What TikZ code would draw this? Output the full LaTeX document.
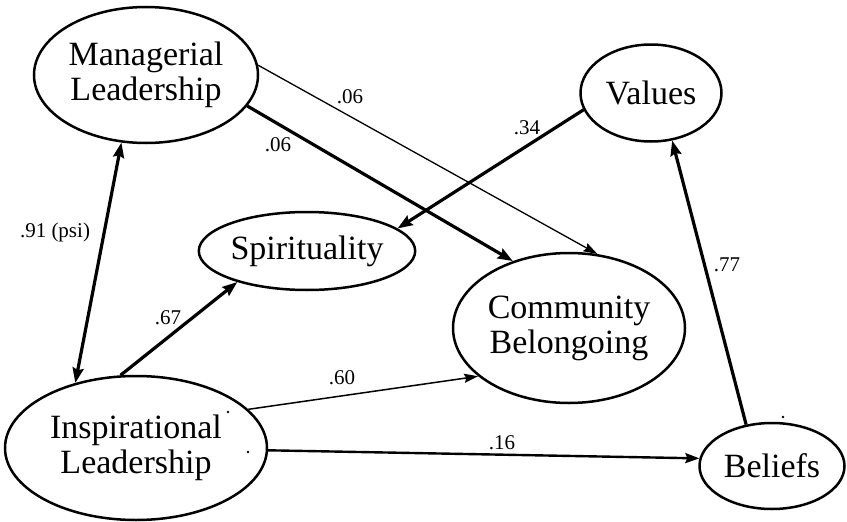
\documentclass[tikz,border=0pt]{standalone}
\usepackage{fontspec}
\setmainfont{Liberation Serif}
\usetikzlibrary{shapes.geometric,arrows.meta}
\begin{document}
\begin{tikzpicture}[x=1pt,y=-1pt,
  latent/.style={draw,ellipse,line width=2.5pt,inner sep=0pt,align=center,
    font=\fontsize{34}{35}\selectfont},
  thickpath/.style={line width=3.2pt,-{Stealth[length=15pt,width=11pt,inset=2pt]}},
  medpath/.style={line width=2.4pt,-{Stealth[length=14pt,width=10pt,inset=2pt]}},
  thinpath/.style={line width=1.3pt,-{Stealth[length=14pt,width=9pt,inset=2pt]}},
  lbl/.style={font=\fontsize{21}{22}\selectfont,inner sep=0pt},
  speck/.style={fill=black,circle,inner sep=0pt,minimum size=2.6pt}]
\useasboundingbox (0,0) rectangle (847,522);
\node[latent,minimum width=224pt,minimum height=136pt] (mgr) at (146,75) {Managerial\\Leadership};
\node[latent,minimum width=141pt,minimum height=97pt] (val) at (651,93) {Values};
\node[latent,minimum width=211pt,minimum height=78pt] (spi) at (307,251) {Spirituality};
\node[latent,minimum width=232pt,minimum height=150pt] (com) at (569,328) {Community\\Belongoing};
\node[latent,minimum width=262pt,minimum height=144pt] (ins) at (136,448) {Inspirational\\Leadership};
\node[latent,minimum width=145pt,minimum height=86pt] (bel) at (772,466) {Beliefs};

\draw[thickpath] (mgr.-17.4) -- (com.130.8);
\draw[thinpath] (mgr.5) -- (com.69);
\draw[thickpath] (val.-166.2) -- (spi.14.3);
\draw[thickpath,{Stealth[length=15pt,width=11pt,inset=2pt]}-{Stealth[length=15pt,width=11pt,inset=2pt]}] (ins.133.3) -- (mgr.-110.9);
\draw[thickpath] (ins.102.4) -- (spi.-156.6);
\draw[line width=1.5pt,-{Stealth[length=14pt,width=9pt,inset=2pt]}] (ins.19.5) -- (com.-152);
\draw[medpath] (ins.-1.7) -- (bel.174.4);
\draw[thickpath] (bel.122.4) -- (val.-66.8);

\node[lbl] (l1) at (350,97) {.06};
\node[lbl] (l2) at (278,145) {.06};
\node[lbl] (l3) at (527,128) {.34};
\node[lbl] (l4) at (55,232) {.91 (psi)};
\node[lbl] (l5) at (168,318) {.67};
\node[lbl] (l6) at (342,378) {.60};
\node[lbl] (l7) at (502,443) {.16};
\node[lbl] (l8) at (727,265) {.77};

\node[speck] (d1) at (228,412) {};
\node[speck] (d2) at (248,452) {};
\node[speck] (d3) at (783,417) {};
\end{tikzpicture}
\end{document}
